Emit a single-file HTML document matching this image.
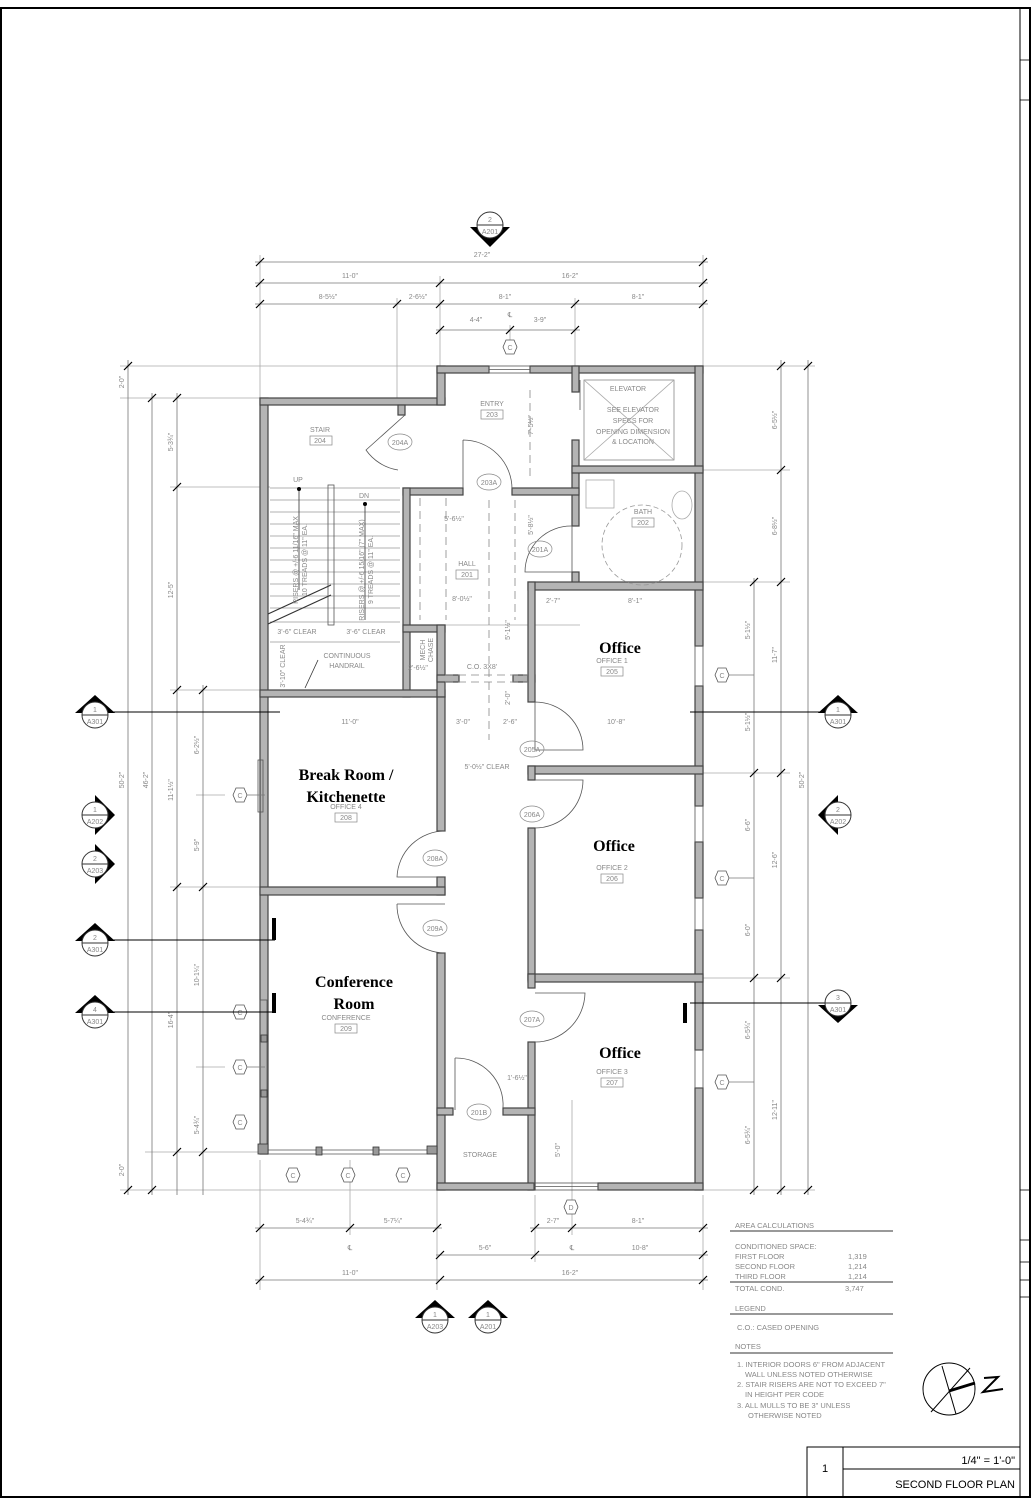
<!DOCTYPE html>
<html><head><style>
html,body{margin:0;padding:0;background:#fff;}
svg{display:block;}
.t{font-family:"Liberation Sans",sans-serif;fill:#888;font-size:7px;}
.b{font-family:"Liberation Serif",serif;font-weight:bold;fill:#000;font-size:16px;text-anchor:middle;}
.w{fill:#b4b4b4;stroke:#444;stroke-width:1.2;}
.g{stroke:#aaa;stroke-width:0.8;fill:none;}
.d{stroke:#777;stroke-width:0.8;fill:none;}
.k{stroke:#000;stroke-width:1.2;}
.dr{stroke:#555;stroke-width:0.8;fill:none;}
</style></head><body>
<svg width="1034" height="1500" viewBox="0 0 1034 1500" xmlns="http://www.w3.org/2000/svg">
<rect x="1" y="8" width="1029" height="1489" fill="none" stroke="#000" stroke-width="2"/>
<line x1="1020" y1="8" x2="1020" y2="1497" stroke="#000" stroke-width="1"/>
<g stroke="#000" stroke-width="0.8">
<line x1="1020" y1="60" x2="1030" y2="60"/><line x1="1020" y1="100" x2="1030" y2="100"/>
<line x1="1020" y1="1190" x2="1030" y2="1190"/><line x1="1020" y1="1240" x2="1030" y2="1240"/>
<line x1="1020" y1="1262" x2="1030" y2="1262"/><line x1="1020" y1="1280" x2="1030" y2="1280"/>
<line x1="1020" y1="1297" x2="1030" y2="1297"/>
</g>

<g class="g">
<line x1="260" y1="255" x2="260" y2="398"/><line x1="703" y1="255" x2="703" y2="366"/>
<line x1="440" y1="276" x2="440" y2="366"/><line x1="397" y1="298" x2="397" y2="398"/>
<line x1="575" y1="298" x2="575" y2="366"/><line x1="510" y1="325" x2="510" y2="340"/>
<line x1="120" y1="366" x2="437" y2="366"/><line x1="120" y1="398" x2="260" y2="398"/>
<line x1="703" y1="366" x2="815" y2="366"/><line x1="703" y1="470" x2="790" y2="470"/>
<line x1="703" y1="582" x2="790" y2="582"/><line x1="703" y1="773" x2="790" y2="773"/>
<line x1="703" y1="978" x2="790" y2="978"/><line x1="703" y1="1190" x2="815" y2="1190"/>
<line x1="120" y1="1190" x2="437" y2="1190"/><line x1="145" y1="1152" x2="260" y2="1152"/>
<line x1="170" y1="487" x2="270" y2="487"/><line x1="170" y1="690" x2="260" y2="690"/>
<line x1="170" y1="887" x2="260" y2="887"/><line x1="196" y1="795" x2="225" y2="795"/>
<line x1="196" y1="1067" x2="225" y2="1067"/>
<line x1="260" y1="1160" x2="260" y2="1290"/><line x1="350" y1="1160" x2="350" y2="1235"/>
<line x1="437" y1="1160" x2="437" y2="1290"/><line x1="535" y1="1195" x2="535" y2="1262"/>
<line x1="572" y1="1100" x2="572" y2="1235"/><line x1="703" y1="1195" x2="703" y2="1290"/>
<line x1="410" y1="625" x2="580" y2="625"/>
</g>
<g class="d">
<line x1="255" y1="262" x2="708" y2="262"/>
<line x1="255" y1="283" x2="708" y2="283"/>
<line x1="255" y1="304" x2="708" y2="304"/>
<line x1="436" y1="330" x2="580" y2="330"/>
<line x1="128" y1="360" x2="128" y2="1195"/>
<line x1="152" y1="393" x2="152" y2="1195"/>
<line x1="177" y1="393" x2="177" y2="1195"/>
<line x1="203" y1="685" x2="203" y2="1195"/>
<line x1="754" y1="578" x2="754" y2="1195"/>
<line x1="781" y1="360" x2="781" y2="1195"/>
<line x1="808" y1="360" x2="808" y2="1195"/>
<line x1="255" y1="1228" x2="442" y2="1228"/>
<line x1="530" y1="1228" x2="708" y2="1228"/>
<line x1="436" y1="1255" x2="708" y2="1255"/>
<line x1="255" y1="1280" x2="708" y2="1280"/>
</g>
<g class="k" stroke-width="1">
<path d="M256 266l8-8M699 266l8-8M256 287l8-8M436 287l8-8M699 287l8-8M256 308l8-8M393 308l8-8M436 308l8-8M571 308l8-8M699 308l8-8M436 334l8-8M506 334l8-8M571 334l8-8"/>
<path d="M124 370l8-8M124 1194l8-8M148 402l8-8M148 1194l8-8M173 402l8-8M173 491l8-8M173 694l8-8M173 891l8-8M173 1156l8-8M199 694l8-8M199 891l8-8M199 1156l8-8"/>
<path d="M750 586l8-8M750 777l8-8M750 982l8-8M750 1194l8-8M777 370l8-8M777 474l8-8M777 586l8-8M777 777l8-8M777 982l8-8M777 1194l8-8M804 370l8-8M804 1194l8-8"/>
<path d="M256 1232l8-8M346 1232l8-8M433 1232l8-8M531 1232l8-8M568 1232l8-8M699 1232l8-8M436 1259l8-8M531 1259l8-8M699 1259l8-8M256 1284l8-8M436 1284l8-8M699 1284l8-8"/>
</g>
<g class="t" text-anchor="middle">
<text x="482" y="257">27-2"</text>
<text x="350" y="278">11-0"</text><text x="570" y="278">16-2"</text>
<text x="328" y="299">8-5½"</text><text x="418" y="299">2-6½"</text>
<text x="505" y="299">8-1"</text><text x="638" y="299">8-1"</text>
<text x="476" y="322">4-4"</text><text x="540" y="322">3-9"</text>
<text x="510" y="317">℄</text>
<text x="305" y="1223">5-4¾"</text><text x="393" y="1223">5-7¼"</text>
<text x="553" y="1223">2-7"</text><text x="638" y="1223">8-1"</text>
<text x="350" y="1250">℄</text><text x="572" y="1250">℄</text>
<text x="485" y="1250">5-6"</text><text x="640" y="1250">10-8"</text>
<text x="350" y="1275">11-0"</text><text x="570" y="1275">16-2"</text>
</g>
<g class="t" text-anchor="middle">
<text transform="translate(124,780) rotate(-90)">50-2"</text>
<text transform="translate(148,780) rotate(-90)">46-2"</text>
<text transform="translate(124,382) rotate(-90)">2-0"</text>
<text transform="translate(124,1170) rotate(-90)">2-0"</text>
<text transform="translate(173,442) rotate(-90)">5-3¾"</text>
<text transform="translate(173,590) rotate(-90)">12-5"</text>
<text transform="translate(173,790) rotate(-90)">11-1½"</text>
<text transform="translate(173,1020) rotate(-90)">16-4"</text>
<text transform="translate(199,745) rotate(-90)">6-2½"</text>
<text transform="translate(199,845) rotate(-90)">5-9"</text>
<text transform="translate(199,975) rotate(-90)">10-1¼"</text>
<text transform="translate(199,1125) rotate(-90)">5-4¾"</text>
<text transform="translate(750,630) rotate(-90)">5-1½"</text>
<text transform="translate(750,722) rotate(-90)">5-1½"</text>
<text transform="translate(750,825) rotate(-90)">6-6"</text>
<text transform="translate(750,930) rotate(-90)">6-0"</text>
<text transform="translate(750,1030) rotate(-90)">6-5¾"</text>
<text transform="translate(750,1135) rotate(-90)">6-5¾"</text>
<text transform="translate(777,420) rotate(-90)">6-5½"</text>
<text transform="translate(777,526) rotate(-90)">6-8½"</text>
<text transform="translate(777,655) rotate(-90)">11-7"</text>
<text transform="translate(777,860) rotate(-90)">12-6"</text>
<text transform="translate(777,1110) rotate(-90)">12-11"</text>
<text transform="translate(804,780) rotate(-90)">50-2"</text>
</g>

<g class="w">
<rect x="260" y="398" width="8" height="756"/>
<rect x="260" y="398" width="185" height="7"/>
<rect x="437" y="366" width="8" height="39"/>
<rect x="437" y="366" width="52" height="7"/>
<rect x="530" y="366" width="173" height="7"/>
<rect x="695" y="366" width="8" height="280"/>
<rect x="695" y="686" width="8" height="120"/>
<rect x="695" y="842" width="8" height="56"/>
<rect x="695" y="930" width="8" height="120"/>
<rect x="695" y="1088" width="8" height="102"/>
<rect x="572" y="366" width="7" height="26"/>
<rect x="572" y="440" width="7" height="86"/>
<rect x="572" y="466" width="131" height="7"/>
<rect x="403" y="488" width="60" height="7"/>
<rect x="512" y="488" width="67" height="7"/>
<rect x="403" y="488" width="7" height="209"/>
<rect x="398" y="405" width="7" height="10"/>
<rect x="260" y="690" width="185" height="7"/>
<rect x="403" y="625" width="42" height="7"/>
<rect x="437" y="625" width="8" height="72"/>
<rect x="437" y="675" width="22" height="7"/>
<rect x="513" y="675" width="22" height="7"/>
<rect x="572" y="572" width="7" height="14"/>
<rect x="528" y="582" width="175" height="8"/>
<rect x="528" y="582" width="7" height="120"/>
<rect x="437" y="697" width="8" height="134"/>
<rect x="437" y="877" width="8" height="18"/>
<rect x="260" y="887" width="185" height="8"/>
<rect x="437" y="953" width="8" height="237"/>
<rect x="528" y="766" width="175" height="8"/>
<rect x="528" y="766" width="7" height="14"/>
<rect x="528" y="828" width="7" height="152"/>
<rect x="528" y="974" width="175" height="8"/>
<rect x="528" y="974" width="7" height="14"/>
<rect x="528" y="1042" width="7" height="148"/>
<rect x="437" y="1108" width="16" height="7"/>
<rect x="503" y="1108" width="32" height="7"/>
<rect x="437" y="1183" width="97" height="7"/>
<rect x="598" y="1183" width="105" height="7"/>
</g>
<g class="dr">
<rect x="489" y="366" width="41" height="7"/><line x1="489" y1="369.5" x2="530" y2="369.5"/>
<rect x="534" y="1183" width="64" height="7"/><line x1="534" y1="1186.5" x2="598" y2="1186.5"/>
<rect x="695" y="646" width="8" height="40"/><rect x="695" y="806" width="8" height="36"/>
<rect x="695" y="898" width="8" height="32"/><rect x="695" y="1050" width="8" height="38"/>
<rect x="258" y="760" width="5" height="52" /><rect x="260" y="1000" width="7" height="150"/>
<line x1="268" y1="1150" x2="437" y2="1150"/><line x1="268" y1="1154" x2="437" y2="1154"/>
</g>
<g fill="#999" stroke="#333" stroke-width="0.8">
<rect x="258" y="1144" width="10" height="10"/><rect x="316" y="1147" width="6" height="8"/>
<rect x="373" y="1147" width="6" height="8"/><rect x="427" y="1146" width="10" height="8"/>
<rect x="261" y="1035" width="6" height="7"/><rect x="261" y="1090" width="6" height="7"/>
</g>
<g class="dr">
<path d="M405 415 L366 450 A48 48 0 0 0 398 470"/>
<path d="M463 440 L463 488 M463 440 A49 49 0 0 1 512 489"/>
<path d="M572 526 L572 572 M572 526 A46 46 0 0 0 525 572 L572 572"/>
<path d="M535 702 L535 750 M535 702 A48 48 0 0 1 583 750 L535 750"/>
<path d="M535 780 L583 780 A48 48 0 0 1 535 828"/>
<path d="M445 831 A48 48 0 0 0 397 877 L445 877"/>
<path d="M397 904 A48 48 0 0 0 445 953 M397 904 L445 904"/>
<path d="M535 993 L585 993 A50 50 0 0 1 535 1042"/>
<path d="M455 1058 L455 1110 M455 1058 A47 47 0 0 1 503 1108"/>
<path d="M580 380 L580 410"/>
</g>
<g stroke="#888" stroke-width="0.8" stroke-dasharray="8,5" fill="none">
<line x1="420" y1="498" x2="420" y2="620"/><line x1="446" y1="498" x2="446" y2="620"/>
<line x1="489" y1="500" x2="489" y2="740"/><line x1="515" y1="500" x2="515" y2="620"/>
<line x1="445" y1="682" x2="528" y2="682"/><line x1="445" y1="675" x2="528" y2="675"/>
<line x1="530" y1="390" x2="530" y2="480"/>
</g>
<g stroke="#999" stroke-width="0.7">
<line x1="270" y1="488" x2="400" y2="488"/><line x1="270" y1="500" x2="400" y2="500"/>
<line x1="270" y1="512" x2="400" y2="512"/><line x1="270" y1="524" x2="400" y2="524"/>
<line x1="270" y1="536" x2="400" y2="536"/><line x1="270" y1="548" x2="400" y2="548"/>
<line x1="270" y1="560" x2="400" y2="560"/><line x1="270" y1="572" x2="400" y2="572"/>
<line x1="270" y1="584" x2="400" y2="584"/><line x1="270" y1="596" x2="400" y2="596"/>
<line x1="270" y1="608" x2="400" y2="608"/><line x1="270" y1="622" x2="400" y2="622"/>
<line x1="270" y1="642" x2="400" y2="642"/>
</g>
<rect x="328" y="485" width="6" height="140" fill="none" stroke="#555" stroke-width="0.8"/>
<path d="M268 614 L331 585 M268 624 L331 595" stroke="#333" stroke-width="1.2"/>
<path d="M299 490 V590 M365 504 V620" stroke="#333" stroke-width="0.8"/>
<circle cx="299" cy="489" r="2" fill="#000"/><circle cx="365" cy="504" r="2" fill="#000"/>
<path d="M318 660 L305 688" stroke="#333" stroke-width="0.8"/>
<rect x="584" y="380" width="90" height="80" fill="none" stroke="#888" stroke-width="0.8"/>
<path d="M584 380 L674 460 M674 380 L584 460" stroke="#aaa" stroke-width="0.8"/>
<circle cx="642" cy="545" r="40" fill="none" stroke="#999" stroke-dasharray="5,3" stroke-width="0.8"/>
<rect x="586" y="480" width="28" height="28" fill="none" stroke="#aaa" stroke-width="0.8"/>
<ellipse cx="682" cy="505" rx="10" ry="14" fill="none" stroke="#aaa" stroke-width="0.8"/>

<g class="t" text-anchor="middle" font-size="7">
<text x="320" y="432">STAIR</text><text x="492" y="406">ENTRY</text>
<text x="628" y="391">ELEVATOR</text><text x="633" y="412">SEE ELEVATOR</text>
<text x="633" y="423">SPECS FOR</text><text x="633" y="434">OPENING DIMENSION</text>
<text x="633" y="444">&amp; LOCATION</text>
<text x="643" y="514">BATH</text><text x="467" y="566">HALL</text>
<text x="612" y="663">OFFICE 1</text><text x="612" y="870">OFFICE 2</text>
<text x="612" y="1074">OFFICE 3</text><text x="346" y="809">OFFICE 4</text>
<text x="346" y="1020">CONFERENCE</text><text x="480" y="1157">STORAGE</text>
<text x="482" y="669">C.O. 3X8'</text><text x="487" y="769">5'-0½" CLEAR</text>
<text x="297" y="634">3'-6" CLEAR</text><text x="366" y="634">3'-6" CLEAR</text>
<text x="347" y="658">CONTINUOUS</text><text x="347" y="668">HANDRAIL</text>
<text x="298" y="482">UP</text><text x="364" y="498">DN</text>
<text x="454" y="521">5'-6½"</text><text x="462" y="601">8'-0½"</text>
<text x="553" y="603">2'-7"</text><text x="635" y="603">8'-1"</text>
<text x="463" y="724">3'-0"</text><text x="350" y="724">11'-0"</text>
<text x="510" y="724">2'-6"</text><text x="616" y="724">10'-8"</text>
<text x="418" y="670">2'-6½"</text><text x="517" y="1080">1'-6½"</text>
</g>
<g class="t" text-anchor="middle">
<text transform="translate(425,650) rotate(-90)">MECH</text>
<text transform="translate(433,650) rotate(-90)">CHASE</text>
<text transform="translate(285,666) rotate(-90)">3'-10" CLEAR</text>
<text transform="translate(298,560) rotate(-90)">RISERS @ +/-6 11/16" MAX</text>
<text transform="translate(307,560) rotate(-90)">10 TREADS @ 11" EA.</text>
<text transform="translate(364,570) rotate(-90)">RISERS @ +/-6 15/16" (7" MAX)</text>
<text transform="translate(373,570) rotate(-90)">9 TREADS @ 11" EA.</text>
<text transform="translate(533,425) rotate(-90)">7'-5½"</text>
<text transform="translate(533,525) rotate(-90)">5'-8½"</text>
<text transform="translate(510,630) rotate(-90)">5'-1½"</text>
<text transform="translate(510,698) rotate(-90)">2'-0"</text>
<text transform="translate(560,1150) rotate(-90)">5'-0"</text>
</g>
<g fill="none" stroke="#888" stroke-width="0.7">
<rect x="310" y="436" width="22" height="9"/><rect x="481" y="410" width="22" height="9"/>
<rect x="632" y="518" width="22" height="9"/><rect x="456" y="570" width="22" height="9"/>
<rect x="601" y="667" width="22" height="9"/><rect x="601" y="874" width="22" height="9"/>
<rect x="601" y="1078" width="22" height="9"/><rect x="335" y="813" width="22" height="9"/>
<rect x="335" y="1024" width="22" height="9"/>
<ellipse cx="400" cy="442" rx="12" ry="8"/><ellipse cx="489" cy="482" rx="12" ry="8"/>
<ellipse cx="540" cy="549" rx="12" ry="8"/><ellipse cx="532" cy="749" rx="12" ry="8"/>
<ellipse cx="532" cy="814" rx="12" ry="8"/><ellipse cx="435" cy="858" rx="12" ry="8"/>
<ellipse cx="435" cy="928" rx="12" ry="8"/><ellipse cx="532" cy="1019" rx="12" ry="8"/>
<ellipse cx="479" cy="1112" rx="12" ry="8"/>
</g>
<g class="t" text-anchor="middle" font-size="6">
<text x="320" y="443">204</text><text x="492" y="417">203</text><text x="643" y="525">202</text>
<text x="467" y="577">201</text><text x="612" y="674">205</text><text x="612" y="881">206</text>
<text x="612" y="1085">207</text><text x="346" y="820">208</text><text x="346" y="1031">209</text>
<text x="400" y="445">204A</text><text x="489" y="485">203A</text><text x="540" y="552">201A</text>
<text x="532" y="752">205A</text><text x="532" y="817">206A</text><text x="435" y="861">208A</text>
<text x="435" y="931">209A</text><text x="532" y="1022">207A</text><text x="479" y="1115">201B</text>
</g>
<text class="b" x="620" y="653">Office</text>
<text class="b" x="614" y="851">Office</text>
<text class="b" x="620" y="1058">Office</text>
<text class="b" x="346" y="780">Break Room /</text>
<text class="b" x="346" y="802">Kitchenette</text>
<text class="b" x="354" y="987">Conference</text>
<text class="b" x="354" y="1009">Room</text>

<g fill="#fff" stroke="#555" stroke-width="0.8">
<path d="M503 347l3-7h8l3 7-3 7h-8z"/>
<path d="M233 795l3-7h8l3 7-3 7h-8z"/><path d="M233 1012l3-7h8l3 7-3 7h-8z"/>
<path d="M233 1067l3-7h8l3 7-3 7h-8z"/><path d="M233 1122l3-7h8l3 7-3 7h-8z"/>
<path d="M286 1175l3-7h8l3 7-3 7h-8z"/><path d="M341 1175l3-7h8l3 7-3 7h-8z"/>
<path d="M396 1175l3-7h8l3 7-3 7h-8z"/><path d="M715 675l3-7h8l3 7-3 7h-8z"/>
<path d="M715 878l3-7h8l3 7-3 7h-8z"/><path d="M715 1082l3-7h8l3 7-3 7h-8z"/>
<path d="M564 1207l3-7h8l3 7-3 7h-8z"/>
</g>
<g class="t" text-anchor="middle" font-size="6">
<text x="510" y="350">C</text><text x="240" y="798">C</text><text x="240" y="1015">C</text>
<text x="240" y="1070">C</text><text x="240" y="1125">C</text><text x="293" y="1178">C</text>
<text x="348" y="1178">C</text><text x="403" y="1178">C</text><text x="722" y="678">C</text>
<text x="722" y="881">C</text><text x="722" y="1085">C</text><text x="571" y="1210">D</text>
</g>
<g stroke="#777" stroke-width="0.7">
<line x1="247" y1="795" x2="265" y2="795"/><line x1="247" y1="1012" x2="275" y2="1012"/>
<line x1="247" y1="1067" x2="265" y2="1067"/><line x1="729" y1="675" x2="754" y2="675"/>
<line x1="729" y1="878" x2="754" y2="878"/><line x1="729" y1="1082" x2="754" y2="1082"/>
</g>

<g stroke="#000" stroke-width="1">
<line x1="105" y1="712" x2="280" y2="712"/><line x1="690" y1="712" x2="830" y2="712"/>
<line x1="105" y1="940" x2="275" y2="940"/><line x1="105" y1="1012" x2="275" y2="1012"/>
<line x1="690" y1="1003" x2="830" y2="1003"/>
</g>
<g fill="#000"><rect x="272" y="918" width="4" height="22"/><rect x="272" y="993" width="4" height="20"/><rect x="683" y="1003" width="4" height="20"/></g>

<g font-family="Liberation Sans,sans-serif" font-size="7" fill="#888" text-anchor="middle">
<g transform="translate(95,715)"><path d="M-20 -2 L0 -20 L20 -2Z" fill="#000"/><circle r="13" fill="#fff" stroke="#333"/><line x1="-13" y1="0" x2="13" y2="0" stroke="#333"/><text y="-3">1</text><text y="9">A301</text></g>
<g transform="translate(95,815)"><path d="M0 -20 L20 0 L0 20Z" fill="#000"/><circle r="13" fill="#fff" stroke="#333"/><line x1="-13" y1="0" x2="13" y2="0" stroke="#333"/><text y="-3">1</text><text y="9">A202</text></g>
<g transform="translate(95,864)"><path d="M0 -20 L20 0 L0 20Z" fill="#000"/><circle r="13" fill="#fff" stroke="#333"/><line x1="-13" y1="0" x2="13" y2="0" stroke="#333"/><text y="-3">2</text><text y="9">A203</text></g>
<g transform="translate(95,943)"><path d="M-20 -2 L0 -20 L20 -2Z" fill="#000"/><circle r="13" fill="#fff" stroke="#333"/><line x1="-13" y1="0" x2="13" y2="0" stroke="#333"/><text y="-3">2</text><text y="9">A301</text></g>
<g transform="translate(95,1015)"><path d="M-20 -2 L0 -20 L20 -2Z" fill="#000"/><circle r="13" fill="#fff" stroke="#333"/><line x1="-13" y1="0" x2="13" y2="0" stroke="#333"/><text y="-3">4</text><text y="9">A301</text></g>
<g transform="translate(838,715)"><path d="M-20 -2 L0 -20 L20 -2Z" fill="#000"/><circle r="13" fill="#fff" stroke="#333"/><line x1="-13" y1="0" x2="13" y2="0" stroke="#333"/><text y="-3">1</text><text y="9">A301</text></g>
<g transform="translate(838,815)"><path d="M0 -20 L-20 0 L0 20Z" fill="#000"/><circle r="13" fill="#fff" stroke="#333"/><line x1="-13" y1="0" x2="13" y2="0" stroke="#333"/><text y="-3">2</text><text y="9">A202</text></g>
<g transform="translate(838,1003)"><path d="M-20 2 L0 20 L20 2Z" fill="#000"/><circle r="13" fill="#fff" stroke="#333"/><line x1="-13" y1="0" x2="13" y2="0" stroke="#333"/><text y="-3">3</text><text y="9">A301</text></g>
<g transform="translate(490,225)"><path d="M-20 2 L0 22 L20 2Z" fill="#000"/><circle r="13" fill="#fff" stroke="#333"/><line x1="-13" y1="0" x2="13" y2="0" stroke="#333"/><text y="-3">2</text><text y="9">A201</text></g>
<g transform="translate(435,1320)"><path d="M-20 -2 L0 -20 L20 -2Z" fill="#000"/><circle r="13" fill="#fff" stroke="#333"/><line x1="-13" y1="0" x2="13" y2="0" stroke="#333"/><text y="-3">1</text><text y="9">A203</text></g>
<g transform="translate(488,1320)"><path d="M-20 -2 L0 -20 L20 -2Z" fill="#000"/><circle r="13" fill="#fff" stroke="#333"/><line x1="-13" y1="0" x2="13" y2="0" stroke="#333"/><text y="-3">1</text><text y="9">A201</text></g>
</g>

<g font-family="Liberation Sans,sans-serif" font-size="7.5" fill="#888">
<text x="735" y="1228">AREA CALCULATIONS</text>
<text x="735" y="1249">CONDITIONED SPACE:</text>
<text x="735" y="1259">FIRST FLOOR</text><text x="848" y="1259">1,319</text>
<text x="735" y="1269">SECOND FLOOR</text><text x="848" y="1269">1,214</text>
<text x="735" y="1279">THIRD FLOOR</text><text x="848" y="1279">1,214</text>
<text x="735" y="1291">TOTAL COND.</text><text x="845" y="1291">3,747</text>
<text x="735" y="1311">LEGEND</text>
<text x="737" y="1330">C.O.: CASED OPENING</text>
<text x="735" y="1349">NOTES</text>
<text x="737" y="1367">1. INTERIOR DOORS 6" FROM ADJACENT</text>
<text x="745" y="1377">WALL UNLESS NOTED OTHERWISE</text>
<text x="737" y="1387">2. STAIR RISERS ARE NOT TO EXCEED 7"</text>
<text x="745" y="1397">IN HEIGHT PER CODE</text>
<text x="737" y="1408">3. ALL MULLS TO BE 3" UNLESS</text>
<text x="748" y="1418">OTHERWISE NOTED</text>
</g>
<g stroke="#333" stroke-width="1">
<line x1="730" y1="1231" x2="893" y2="1231"/><line x1="730" y1="1282" x2="893" y2="1282"/>
<line x1="730" y1="1314" x2="893" y2="1314"/><line x1="730" y1="1353" x2="893" y2="1353"/>
</g>
<g stroke="#000" fill="none" stroke-width="1">
<circle cx="949" cy="1389" r="26"/>
<line x1="931" y1="1412" x2="970" y2="1368"/>
<line x1="942" y1="1366" x2="956" y2="1414"/>
</g>
<line x1="949" y1="1391" x2="975" y2="1383" stroke="#000" stroke-width="3"/>
<path d="M984 1378 L998 1377 L983 1392 L1003 1389" stroke="#000" stroke-width="2" fill="none"/>
<g stroke="#000" stroke-width="1" fill="none">
<path d="M807 1497 V1447 H1020 M843 1447 V1497 M843 1469 H1020"/>
</g>
<g font-family="Liberation Sans,sans-serif" fill="#000">
<text x="825" y="1472" font-size="11" text-anchor="middle">1</text>
<text x="1015" y="1464" font-size="11" text-anchor="end">1/4" = 1'-0"</text>
<text x="1015" y="1488" font-size="11" text-anchor="end">SECOND FLOOR PLAN</text>
</g>
</svg>
</body></html>
